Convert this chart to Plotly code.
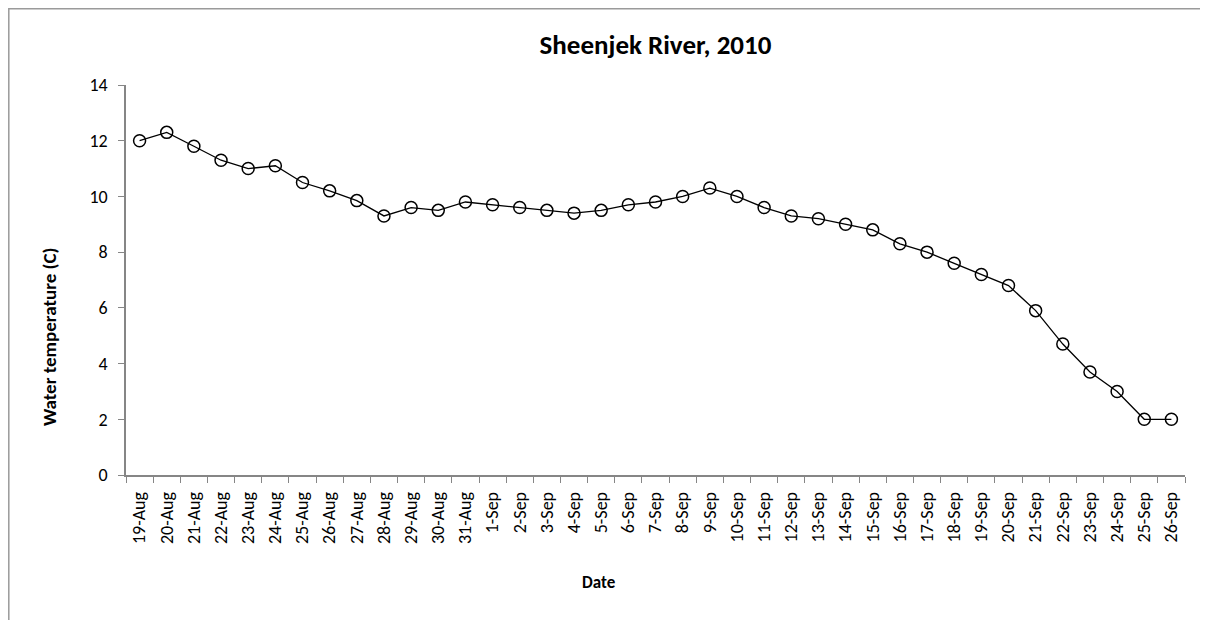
import plotly.graph_objects as go

# daily water temperature, Sheenjek River 2010
dates = ['19-Aug', '20-Aug', '21-Aug', '22-Aug', '23-Aug', '24-Aug', '25-Aug',
         '26-Aug', '27-Aug', '28-Aug', '29-Aug', '30-Aug', '31-Aug',
         '1-Sep', '2-Sep', '3-Sep', '4-Sep', '5-Sep', '6-Sep', '7-Sep', '8-Sep',
         '9-Sep', '10-Sep', '11-Sep', '12-Sep', '13-Sep', '14-Sep', '15-Sep',
         '16-Sep', '17-Sep', '18-Sep', '19-Sep', '20-Sep', '21-Sep', '22-Sep',
         '23-Sep', '24-Sep', '25-Sep', '26-Sep']
temps = [12.0, 12.3, 11.8, 11.3, 11.0, 11.1, 10.5, 10.2, 9.85, 9.3, 9.6, 9.5, 9.8,
         9.7, 9.6, 9.5, 9.4, 9.5, 9.7, 9.8, 10.0, 10.3, 10.0, 9.6, 9.3, 9.2, 9.0,
         8.8, 8.3, 8.0, 7.6, 7.2, 6.8, 5.9, 4.7, 3.7, 3.0, 2.0, 2.0]
y_ticks = [0, 2, 4, 6, 8, 10, 12, 14]

FONT = 'Carlito, Lato, sans-serif'
AXIS_GREY = '#868686'

# page body adds an 8px offset, so the figure is drawn 8px smaller
W, H = 1200, 612
L, R, T, B = 118, 23, 77, 145
PW, PH = W - L - R, H - T - B


def px_x(x):
    return (x - L) / PW


def px_y(y):
    return ((H - B) - y) / PH


fig = go.Figure()
fig.add_trace(go.Scatter(
    x=dates,
    y=temps,
    mode='lines+markers',
    line=dict(color='black', width=1.3),
    marker=dict(symbol='circle-open', size=12, color='black', line=dict(width=1.5)),
    showlegend=False,
))

fig.update_layout(
    width=W,
    height=H,
    margin=dict(l=L, r=R, t=T, b=B, pad=0),
    paper_bgcolor='white',
    plot_bgcolor='white',
    font=dict(family=FONT, color='black'),
    title=dict(
        text='<b>Sheenjek River, 2010</b>',
        font=dict(size=27, family=FONT, color='black'),
        x=(L + PW / 2) / W,
        xanchor='center',
        y=1 - 37 / H,
        yanchor='middle',
    ),
    xaxis=dict(
        type='category',
        range=[-0.5, len(dates) - 0.5],
        tickson='boundaries',
        ticks='outside',
        ticklen=6,
        tickcolor=AXIS_GREY,
        tickangle=-90,
        tickfont=dict(size=18, family=FONT),
        ticklabelstandoff=8,
        showline=True,
        linecolor=AXIS_GREY,
        linewidth=1.5,
        showgrid=False,
        zeroline=False,
    ),
    yaxis=dict(
        range=[0, 14],
        tickvals=y_ticks,
        ticks='outside',
        ticklen=6,
        tickcolor=AXIS_GREY,
        tickfont=dict(size=18, family=FONT),
        ticklabelstandoff=7,
        showline=True,
        linecolor=AXIS_GREY,
        linewidth=1.5,
        showgrid=False,
        zeroline=False,
    ),
)

# axis titles placed like the original
fig.add_annotation(
    text='<b>Date</b>', xref='paper', yref='paper',
    x=px_x(591), y=px_y(574),
    xanchor='center', yanchor='middle', showarrow=False,
    font=dict(size=17, family=FONT),
)
fig.add_annotation(
    text='<b>Water temperature (C)</b>', xref='paper', yref='paper',
    x=px_x(41), y=px_y(329),
    xanchor='center', yanchor='middle', textangle=-90, showarrow=False,
    font=dict(size=19, family=FONT),
)

# chart frame (top and left edges visible)
fig.add_shape(
    type='rect', xref='paper', yref='paper',
    x0=px_x(0.8), x1=px_x(W + 30),
    y0=px_y(H + 30), y1=px_y(0.8),
    line=dict(color='#9a9a9a', width=1.5), fillcolor='rgba(0,0,0,0)', layer='below',
)

fig.write_html("out.html")
